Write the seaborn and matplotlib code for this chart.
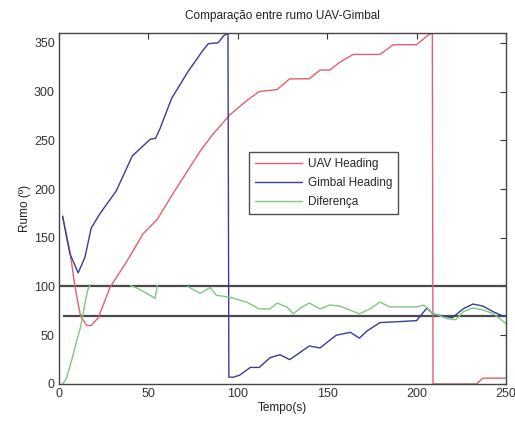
import numpy as np
import pandas as pd
import matplotlib
matplotlib.use("Agg")
import matplotlib.pyplot as plt
import seaborn as sns

# UAV heading (degrees) over time (s)
uav_t = [2, 6, 9, 12, 15.5, 18, 22, 28.5, 38, 47, 55, 64, 79, 86, 95.5, 100, 106,
         112, 122, 129, 140, 146, 151.5, 157, 164.5, 179.5, 187, 200, 206.5, 208.8,
         209.2, 233.5, 237, 250]
uav_v = [172, 137, 99, 70, 60, 60, 68, 99, 126, 154, 169, 196, 239, 256, 276, 283, 292,
         300, 302, 313, 313, 322, 322, 330, 338, 338, 348, 348, 358, 360,
         0, 0, 6, 6]

# Gimbal heading (degrees) over time (s)
gimbal_t = [2, 6, 10.7, 14.5, 18, 23, 32, 41, 51, 54, 56.5, 63, 72, 80, 83.5, 89, 92,
            94.5, 95, 97.5, 101, 107, 112, 118, 123.6, 129, 140, 146, 155, 163, 168,
            172, 179.5, 190.7, 200, 205.8, 209, 214, 220, 226, 231.5, 237, 243, 248, 250]
gimbal_v = [172, 134, 114, 130, 160, 175, 198, 234, 251, 252, 262, 293, 320, 341, 349,
            350, 357, 360, 7, 7, 9, 17, 17, 27, 30, 25, 39, 37, 50, 53, 47,
            54, 63, 64, 65, 78, 72, 70, 68, 77, 82, 80, 74, 70, 70]

# Difference between headings, in the three visible stretches
diff_seg = [0, 0, 0, 0, 0, 0, 0, 0,
            1, 1, 1, 1, 1,
            2, 2, 2, 2, 2, 2, 2, 2, 2, 2, 2, 2, 2, 2, 2, 2, 2, 2, 2, 2, 2, 2, 2, 2,
            2, 2, 2, 2, 2, 2, 2, 2, 2, 2, 2, 2]
diff_t = [2, 4, 7, 10, 12, 14, 16, 17.5,
          40, 44, 48, 53.7, 55,
          72, 75, 79, 84.5, 88, 92, 97.5, 105, 112, 118, 122, 127.5, 131, 135, 140,
          146, 151.5, 157, 161, 168, 174, 179.5, 185, 192, 200, 204, 206.5, 209, 213,
          217, 222, 226, 231.5, 237, 243, 250]
diff_v = [0, 5, 24, 45, 58, 78, 96, 102,
          101, 98, 94, 88, 101,
          100, 97, 93, 99, 91, 90, 88, 84, 77, 77, 83, 79, 72, 78, 83,
          77, 81, 80, 77, 72, 77, 84, 79, 79, 79, 81, 77, 72, 70,
          67, 66, 74, 78, 76, 72, 62]

# Reference levels and where they start
ref_levels = [100, 70]
ref_start = [0, 2]

x_ticks = [0, 50, 100, 150, 200, 250]
y_ticks = [0, 50, 100, 150, 200, 250, 300, 350]

sns.set_style("white")
plt.rcParams["font.family"] = ["Liberation Sans", "DejaVu Sans"]

fig = plt.figure(figsize=(5.15, 4.21), dpi=100)
ax = fig.add_axes([0.1146, 0.0879, 0.8679, 0.8337])

uav = pd.DataFrame({"t": uav_t, "v": uav_v})
gim = pd.DataFrame({"t": gimbal_t, "v": gimbal_v})
dif = pd.DataFrame({"seg": diff_seg, "t": diff_t, "v": diff_v})

ax.hlines(ref_levels, ref_start, 250, colors="#4a4a4a", linewidth=1.6, zorder=1)

sns.lineplot(data=uav, x="t", y="v", ax=ax, color="#e0606e", linewidth=1.0,
             label="UAV Heading", sort=False, estimator=None)
sns.lineplot(data=gim, x="t", y="v", ax=ax, color="#3a3c96", linewidth=1.0,
             label="Gimbal Heading", sort=False, estimator=None)
sns.lineplot(data=dif, x="t", y="v", units="seg", ax=ax, color="#7fc77f",
             linewidth=1.0, label="Diferença", sort=False, estimator=None)

ax.set_xlim(0, 250)
ax.set_ylim(0, 360)
ax.set_xticks(x_ticks)
ax.set_yticks(y_ticks)
ax.tick_params(direction="in", length=4, width=0.8, top=True, right=True,
               labelsize=9, colors="#333333", pad=3)
for s in ax.spines.values():
    s.set_color("#444444")
    s.set_linewidth(1.0)

ax.set_title("Comparação entre rumo UAV-Gimbal", fontsize=8.5, pad=10, color="#222222")
ax.set_xlabel("Tempo(s)", fontsize=8.5, labelpad=1, color="#222222")
ax.set_ylabel("Rumo (º)", fontsize=8.5, labelpad=2, color="#222222")

handles, labels = ax.get_legend_handles_labels()
leg = ax.legend(handles[:3], labels[:3], loc="upper left",
                bbox_to_anchor=(0.412, 0.678), fontsize=8.5,
                frameon=True, fancybox=False, edgecolor="#222222", handlelength=4.0,
                labelspacing=0.6, borderpad=0.5, handletextpad=0.5)
leg.get_frame().set_linewidth(1.0)

fig.savefig("out.png", dpi=100)
